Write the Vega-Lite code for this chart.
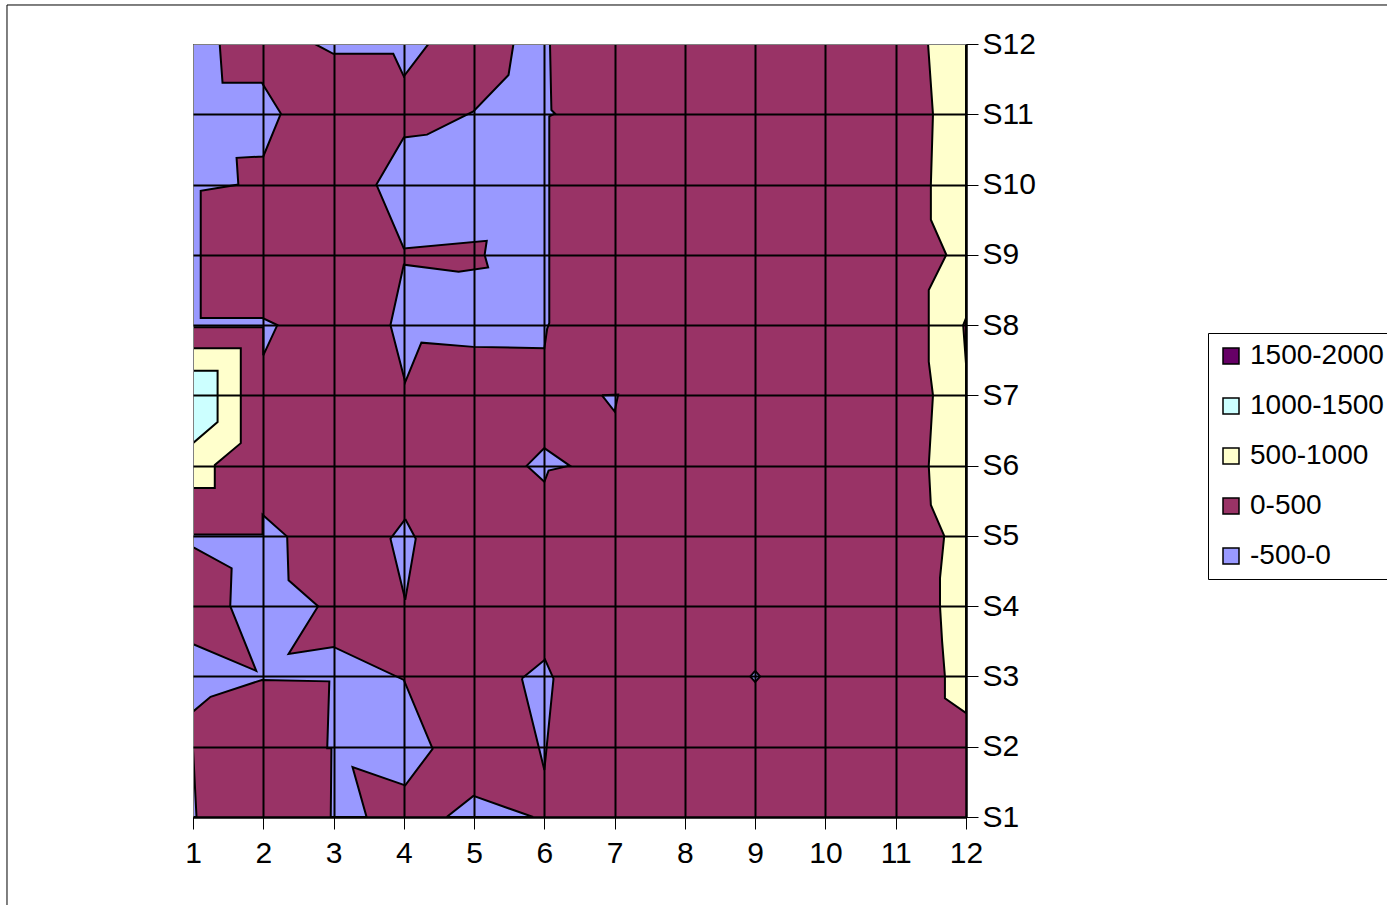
{
  "$schema": "https://vega.github.io/schema/vega-lite/v6.json",
  "width": 773,
  "height": 773,
  "autosize": {"type": "none"},
  "padding": {"left": 193, "top": 44, "right": 421, "bottom": 88},
  "background": "white",
  "config": {
    "font": "Liberation Sans",
    "view": {"stroke": "#808080", "strokeWidth": 1}
  },
  "datasets": {
    "bands": [
      {"band": "0-500", "x": 1, "x2": 12, "y": 1, "y2": 12}
    ],
    "polys": [
      {"poly": "B1", "band": "-500-0", "i": 0, "x": 1.0, "y": 12.0},
      {"poly": "B1", "band": "-500-0", "i": 1, "x": 1.38, "y": 12.0},
      {"poly": "B1", "band": "-500-0", "i": 2, "x": 1.42, "y": 11.45},
      {"poly": "B1", "band": "-500-0", "i": 3, "x": 1.98, "y": 11.45},
      {"poly": "B1", "band": "-500-0", "i": 4, "x": 2.25, "y": 11.01},
      {"poly": "B1", "band": "-500-0", "i": 5, "x": 2.0, "y": 10.4},
      {"poly": "B1", "band": "-500-0", "i": 6, "x": 1.62, "y": 10.38},
      {"poly": "B1", "band": "-500-0", "i": 7, "x": 1.645, "y": 10.0},
      {"poly": "B1", "band": "-500-0", "i": 8, "x": 1.11, "y": 9.91},
      {"poly": "B1", "band": "-500-0", "i": 9, "x": 1.11, "y": 8.1},
      {"poly": "B1", "band": "-500-0", "i": 10, "x": 1.99, "y": 8.1},
      {"poly": "B1", "band": "-500-0", "i": 11, "x": 2.2, "y": 8.0},
      {"poly": "B1", "band": "-500-0", "i": 12, "x": 2.0, "y": 7.57},
      {"poly": "B1", "band": "-500-0", "i": 13, "x": 2.0, "y": 7.97},
      {"poly": "B1", "band": "-500-0", "i": 14, "x": 1.0, "y": 7.97},
      {"poly": "B1", "band": "-500-0", "i": 15, "x": 1.0, "y": 12.0},

      {"poly": "B2", "band": "-500-0", "i": 0, "x": 2.736, "y": 12.0},
      {"poly": "B2", "band": "-500-0", "i": 1, "x": 2.997, "y": 11.86},
      {"poly": "B2", "band": "-500-0", "i": 2, "x": 3.85, "y": 11.86},
      {"poly": "B2", "band": "-500-0", "i": 3, "x": 4.0, "y": 11.54},
      {"poly": "B2", "band": "-500-0", "i": 4, "x": 4.35, "y": 12.0},
      {"poly": "B2", "band": "-500-0", "i": 5, "x": 2.736, "y": 12.0},

      {"poly": "B3", "band": "-500-0", "i": 0, "x": 5.56, "y": 12.0},
      {"poly": "B3", "band": "-500-0", "i": 1, "x": 6.08, "y": 12.0},
      {"poly": "B3", "band": "-500-0", "i": 2, "x": 6.1, "y": 11.06},
      {"poly": "B3", "band": "-500-0", "i": 3, "x": 6.15, "y": 11.01},
      {"poly": "B3", "band": "-500-0", "i": 4, "x": 6.07, "y": 10.97},
      {"poly": "B3", "band": "-500-0", "i": 5, "x": 6.07, "y": 8.03},
      {"poly": "B3", "band": "-500-0", "i": 6, "x": 6.04, "y": 7.95},
      {"poly": "B3", "band": "-500-0", "i": 7, "x": 6.0, "y": 7.67},
      {"poly": "B3", "band": "-500-0", "i": 8, "x": 4.99, "y": 7.69},
      {"poly": "B3", "band": "-500-0", "i": 9, "x": 4.25, "y": 7.75},
      {"poly": "B3", "band": "-500-0", "i": 10, "x": 4.02, "y": 7.19},
      {"poly": "B3", "band": "-500-0", "i": 11, "x": 3.81, "y": 8.0},
      {"poly": "B3", "band": "-500-0", "i": 12, "x": 4.0, "y": 8.86},
      {"poly": "B3", "band": "-500-0", "i": 13, "x": 4.78, "y": 8.76},
      {"poly": "B3", "band": "-500-0", "i": 14, "x": 5.2, "y": 8.82},
      {"poly": "B3", "band": "-500-0", "i": 15, "x": 5.15, "y": 9.0},
      {"poly": "B3", "band": "-500-0", "i": 16, "x": 5.18, "y": 9.2},
      {"poly": "B3", "band": "-500-0", "i": 17, "x": 4.0, "y": 9.09},
      {"poly": "B3", "band": "-500-0", "i": 18, "x": 3.61, "y": 10.0},
      {"poly": "B3", "band": "-500-0", "i": 19, "x": 4.0, "y": 10.67},
      {"poly": "B3", "band": "-500-0", "i": 20, "x": 4.33, "y": 10.71},
      {"poly": "B3", "band": "-500-0", "i": 21, "x": 4.99, "y": 11.04},
      {"poly": "B3", "band": "-500-0", "i": 22, "x": 5.49, "y": 11.56},
      {"poly": "B3", "band": "-500-0", "i": 23, "x": 5.56, "y": 12.0},

      {"poly": "B4", "band": "-500-0", "i": 0, "x": 6.82, "y": 7.0},
      {"poly": "B4", "band": "-500-0", "i": 1, "x": 7.05, "y": 7.01},
      {"poly": "B4", "band": "-500-0", "i": 2, "x": 7.0, "y": 6.77},
      {"poly": "B4", "band": "-500-0", "i": 3, "x": 6.82, "y": 7.0},

      {"poly": "B5", "band": "-500-0", "i": 0, "x": 6.0, "y": 6.25},
      {"poly": "B5", "band": "-500-0", "i": 1, "x": 6.36, "y": 6.0},
      {"poly": "B5", "band": "-500-0", "i": 2, "x": 6.06, "y": 5.93},
      {"poly": "B5", "band": "-500-0", "i": 3, "x": 6.0, "y": 5.77},
      {"poly": "B5", "band": "-500-0", "i": 4, "x": 5.75, "y": 6.0},
      {"poly": "B5", "band": "-500-0", "i": 5, "x": 6.0, "y": 6.25},

      {"poly": "B6", "band": "-500-0", "i": 0, "x": 4.02, "y": 5.24},
      {"poly": "B6", "band": "-500-0", "i": 1, "x": 4.17, "y": 4.96},
      {"poly": "B6", "band": "-500-0", "i": 2, "x": 4.02, "y": 4.09},
      {"poly": "B6", "band": "-500-0", "i": 3, "x": 3.81, "y": 4.96},
      {"poly": "B6", "band": "-500-0", "i": 4, "x": 4.02, "y": 5.24},

      {"poly": "B7", "band": "-500-0", "i": 0, "x": 9.0, "y": 3.08},
      {"poly": "B7", "band": "-500-0", "i": 1, "x": 9.07, "y": 3.0},
      {"poly": "B7", "band": "-500-0", "i": 2, "x": 9.0, "y": 2.92},
      {"poly": "B7", "band": "-500-0", "i": 3, "x": 8.93, "y": 3.0},
      {"poly": "B7", "band": "-500-0", "i": 4, "x": 9.0, "y": 3.08},

      {"poly": "B8", "band": "-500-0", "i": 0, "x": 1.0, "y": 5.02},
      {"poly": "B8", "band": "-500-0", "i": 1, "x": 1.99, "y": 5.02},
      {"poly": "B8", "band": "-500-0", "i": 2, "x": 1.99, "y": 5.3},
      {"poly": "B8", "band": "-500-0", "i": 3, "x": 2.34, "y": 4.99},
      {"poly": "B8", "band": "-500-0", "i": 4, "x": 2.36, "y": 4.37},
      {"poly": "B8", "band": "-500-0", "i": 5, "x": 2.78, "y": 4.0},
      {"poly": "B8", "band": "-500-0", "i": 6, "x": 2.36, "y": 3.32},
      {"poly": "B8", "band": "-500-0", "i": 7, "x": 3.0, "y": 3.42},
      {"poly": "B8", "band": "-500-0", "i": 8, "x": 4.0, "y": 2.95},
      {"poly": "B8", "band": "-500-0", "i": 9, "x": 4.41, "y": 1.97},
      {"poly": "B8", "band": "-500-0", "i": 10, "x": 4.02, "y": 1.45},
      {"poly": "B8", "band": "-500-0", "i": 11, "x": 3.27, "y": 1.71},
      {"poly": "B8", "band": "-500-0", "i": 12, "x": 3.47, "y": 1.0},
      {"poly": "B8", "band": "-500-0", "i": 13, "x": 2.96, "y": 1.0},
      {"poly": "B8", "band": "-500-0", "i": 14, "x": 2.97, "y": 1.98},
      {"poly": "B8", "band": "-500-0", "i": 15, "x": 2.91, "y": 1.98},
      {"poly": "B8", "band": "-500-0", "i": 16, "x": 2.94, "y": 2.93},
      {"poly": "B8", "band": "-500-0", "i": 17, "x": 1.98, "y": 2.95},
      {"poly": "B8", "band": "-500-0", "i": 18, "x": 1.25, "y": 2.71},
      {"poly": "B8", "band": "-500-0", "i": 19, "x": 1.0, "y": 2.5},
      {"poly": "B8", "band": "-500-0", "i": 20, "x": 1.0, "y": 3.46},
      {"poly": "B8", "band": "-500-0", "i": 21, "x": 1.9, "y": 3.08},
      {"poly": "B8", "band": "-500-0", "i": 22, "x": 1.53, "y": 4.0},
      {"poly": "B8", "band": "-500-0", "i": 23, "x": 1.55, "y": 4.54},
      {"poly": "B8", "band": "-500-0", "i": 24, "x": 1.0, "y": 4.84},
      {"poly": "B8", "band": "-500-0", "i": 25, "x": 1.0, "y": 5.02},

      {"poly": "B9", "band": "-500-0", "i": 0, "x": 4.61, "y": 1.0},
      {"poly": "B9", "band": "-500-0", "i": 1, "x": 4.99, "y": 1.3},
      {"poly": "B9", "band": "-500-0", "i": 2, "x": 5.84, "y": 1.0},
      {"poly": "B9", "band": "-500-0", "i": 3, "x": 4.61, "y": 1.0},

      {"poly": "B10", "band": "-500-0", "i": 0, "x": 5.68, "y": 2.97},
      {"poly": "B10", "band": "-500-0", "i": 1, "x": 6.01, "y": 3.24},
      {"poly": "B10", "band": "-500-0", "i": 2, "x": 6.13, "y": 2.97},
      {"poly": "B10", "band": "-500-0", "i": 3, "x": 6.03, "y": 1.97},
      {"poly": "B10", "band": "-500-0", "i": 4, "x": 6.0, "y": 1.67},
      {"poly": "B10", "band": "-500-0", "i": 5, "x": 5.68, "y": 2.97},

      {"poly": "B11", "band": "-500-0", "i": 0, "x": 1.0, "y": 1.97},
      {"poly": "B11", "band": "-500-0", "i": 1, "x": 1.05, "y": 1.0},
      {"poly": "B11", "band": "-500-0", "i": 2, "x": 1.0, "y": 1.0},
      {"poly": "B11", "band": "-500-0", "i": 3, "x": 1.0, "y": 1.97},

      {"poly": "Y1", "band": "500-1000", "i": 0, "x": 1.0, "y": 7.67},
      {"poly": "Y1", "band": "500-1000", "i": 1, "x": 1.68, "y": 7.67},
      {"poly": "Y1", "band": "500-1000", "i": 2, "x": 1.68, "y": 6.32},
      {"poly": "Y1", "band": "500-1000", "i": 3, "x": 1.31, "y": 6.01},
      {"poly": "Y1", "band": "500-1000", "i": 4, "x": 1.31, "y": 5.68},
      {"poly": "Y1", "band": "500-1000", "i": 5, "x": 1.0, "y": 5.68},
      {"poly": "Y1", "band": "500-1000", "i": 6, "x": 1.0, "y": 7.67},

      {"poly": "Y2", "band": "500-1000", "i": 0, "x": 11.46, "y": 12.0},
      {"poly": "Y2", "band": "500-1000", "i": 1, "x": 11.53, "y": 11.0},
      {"poly": "Y2", "band": "500-1000", "i": 2, "x": 11.5, "y": 10.0},
      {"poly": "Y2", "band": "500-1000", "i": 3, "x": 11.5, "y": 9.5},
      {"poly": "Y2", "band": "500-1000", "i": 4, "x": 11.72, "y": 9.0},
      {"poly": "Y2", "band": "500-1000", "i": 5, "x": 11.47, "y": 8.5},
      {"poly": "Y2", "band": "500-1000", "i": 6, "x": 11.47, "y": 7.48},
      {"poly": "Y2", "band": "500-1000", "i": 7, "x": 11.53, "y": 7.0},
      {"poly": "Y2", "band": "500-1000", "i": 8, "x": 11.47, "y": 6.0},
      {"poly": "Y2", "band": "500-1000", "i": 9, "x": 11.5, "y": 5.44},
      {"poly": "Y2", "band": "500-1000", "i": 10, "x": 11.69, "y": 5.0},
      {"poly": "Y2", "band": "500-1000", "i": 11, "x": 11.63, "y": 4.4},
      {"poly": "Y2", "band": "500-1000", "i": 12, "x": 11.63, "y": 4.0},
      {"poly": "Y2", "band": "500-1000", "i": 13, "x": 11.66, "y": 3.5},
      {"poly": "Y2", "band": "500-1000", "i": 14, "x": 11.7, "y": 3.0},
      {"poly": "Y2", "band": "500-1000", "i": 15, "x": 11.7, "y": 2.69},
      {"poly": "Y2", "band": "500-1000", "i": 16, "x": 12.0, "y": 2.48},
      {"poly": "Y2", "band": "500-1000", "i": 17, "x": 12.0, "y": 12.0},
      {"poly": "Y2", "band": "500-1000", "i": 18, "x": 11.46, "y": 12.0},

      {"poly": "C1", "band": "1000-1500", "i": 0, "x": 1.0, "y": 7.35},
      {"poly": "C1", "band": "1000-1500", "i": 1, "x": 1.35, "y": 7.35},
      {"poly": "C1", "band": "1000-1500", "i": 2, "x": 1.35, "y": 6.62},
      {"poly": "C1", "band": "1000-1500", "i": 3, "x": 1.0, "y": 6.32},
      {"poly": "C1", "band": "1000-1500", "i": 4, "x": 1.0, "y": 7.35},

      {"poly": "M1", "band": "0-500", "i": 0, "x": 12.0, "y": 8.1},
      {"poly": "M1", "band": "0-500", "i": 1, "x": 11.96, "y": 8.0},
      {"poly": "M1", "band": "0-500", "i": 2, "x": 12.0, "y": 7.45},
      {"poly": "M1", "band": "0-500", "i": 3, "x": 12.0, "y": 8.1}
    ]
  },
  "layer": [
    {
      "data": {"name": "bands"},
      "mark": {"type": "rect", "strokeWidth": 0},
      "encoding": {
        "x": {
          "field": "x", "type": "quantitative",
          "scale": {"domain": [1, 12], "nice": false, "zero": false},
          "axis": {
            "title": null,
            "values": [1, 2, 3, 4, 5, 6, 7, 8, 9, 10, 11, 12],
            "format": "d",
            "labelFontSize": 30, "labelColor": "black", "labelPadding": 9, "labelFlush": false,
            "tickColor": "black", "tickSize": 12, "tickWidth": 1,
            "domainColor": "black", "domainWidth": 2,
            "grid": true,
            "gridColor": {"condition": {"test": "datum.value == 1", "value": "#808080"}, "value": "black"},
            "gridWidth": {"condition": {"test": "datum.value == 1", "value": 1}, "value": 2},
            "gridOpacity": 1,
            "zindex": 1
          }
        },
        "x2": {"field": "x2"},
        "y": {
          "field": "y", "type": "quantitative",
          "scale": {"domain": [1, 12], "nice": false, "zero": false},
          "axis": {
            "title": null,
            "orient": "right",
            "values": [1, 2, 3, 4, 5, 6, 7, 8, 9, 10, 11, 12],
            "labelExpr": "'S' + datum.value",
            "labelFontSize": 30, "labelColor": "black", "labelPadding": 4, "labelFlush": false,
            "tickColor": "black", "tickSize": 12, "tickWidth": 1,
            "domainColor": "black", "domainWidth": 2,
            "grid": true,
            "gridColor": {"condition": {"test": "datum.value == 12", "value": "#808080"}, "value": "black"},
            "gridWidth": {"condition": {"test": "datum.value == 12", "value": 1}, "value": 2},
            "gridOpacity": 1,
            "zindex": 1
          }
        },
        "y2": {"field": "y2"},
        "fill": {
          "field": "band", "type": "nominal",
          "scale": {
            "domain": ["1500-2000", "1000-1500", "500-1000", "0-500", "-500-0"],
            "range": ["#660066", "#CCFFFF", "#FFFFCC", "#993366", "#9999FF"]
          },
          "legend": {
            "title": null,
            "orient": "none",
            "legendX": 1015,
            "legendY": 289,
            "symbolType": "square",
            "symbolSize": 256,
            "symbolStrokeColor": "black",
            "symbolStrokeWidth": 1.5,
            "symbolOpacity": 1,
            "labelFontSize": 28,
            "labelColor": "black",
            "labelOffset": 5,
            "labelLimit": 300,
            "rowPadding": 22,
            "padding": 9,
            "strokeColor": "black",
            "fillColor": "white"
          }
        }
      }
    },
    {
      "data": {"name": "polys"},
      "transform": [{"filter": "datum.band == '-500-0'"}],
      "mark": {"type": "line", "fill": "#9999FF", "stroke": "black", "strokeWidth": 2, "clip": true},
      "encoding": {
        "x": {"field": "x", "type": "quantitative"},
        "y": {"field": "y", "type": "quantitative"},
        "detail": {"field": "poly"},
        "order": {"field": "i"}
      }
    },
    {
      "data": {"name": "polys"},
      "transform": [{"filter": "datum.band == '500-1000'"}],
      "mark": {"type": "line", "fill": "#FFFFCC", "stroke": "black", "strokeWidth": 2, "clip": true},
      "encoding": {
        "x": {"field": "x", "type": "quantitative"},
        "y": {"field": "y", "type": "quantitative"},
        "detail": {"field": "poly"},
        "order": {"field": "i"}
      }
    },
    {
      "data": {"name": "polys"},
      "transform": [{"filter": "datum.band == '1000-1500'"}],
      "mark": {"type": "line", "fill": "#CCFFFF", "stroke": "black", "strokeWidth": 2, "clip": true},
      "encoding": {
        "x": {"field": "x", "type": "quantitative"},
        "y": {"field": "y", "type": "quantitative"},
        "detail": {"field": "poly"},
        "order": {"field": "i"}
      }
    },
    {
      "data": {"name": "polys"},
      "transform": [{"filter": "datum.band == '0-500'"}],
      "mark": {"type": "line", "fill": "#993366", "stroke": "black", "strokeWidth": 2, "clip": true},
      "encoding": {
        "x": {"field": "x", "type": "quantitative"},
        "y": {"field": "y", "type": "quantitative"},
        "detail": {"field": "poly"},
        "order": {"field": "i"}
      }
    },
    {
      "data": {"values": [{}]},
      "mark": {"type": "rect", "fill": null, "fillOpacity": 0, "stroke": "black", "strokeWidth": 1, "clip": false},
      "encoding": {
        "x": {"datum": -1.647, "type": "quantitative"},
        "x2": {"datum": 18.5},
        "y": {"datum": 12.555, "type": "quantitative"},
        "y2": {"datum": -0.5}
      }
    }
  ]
}
